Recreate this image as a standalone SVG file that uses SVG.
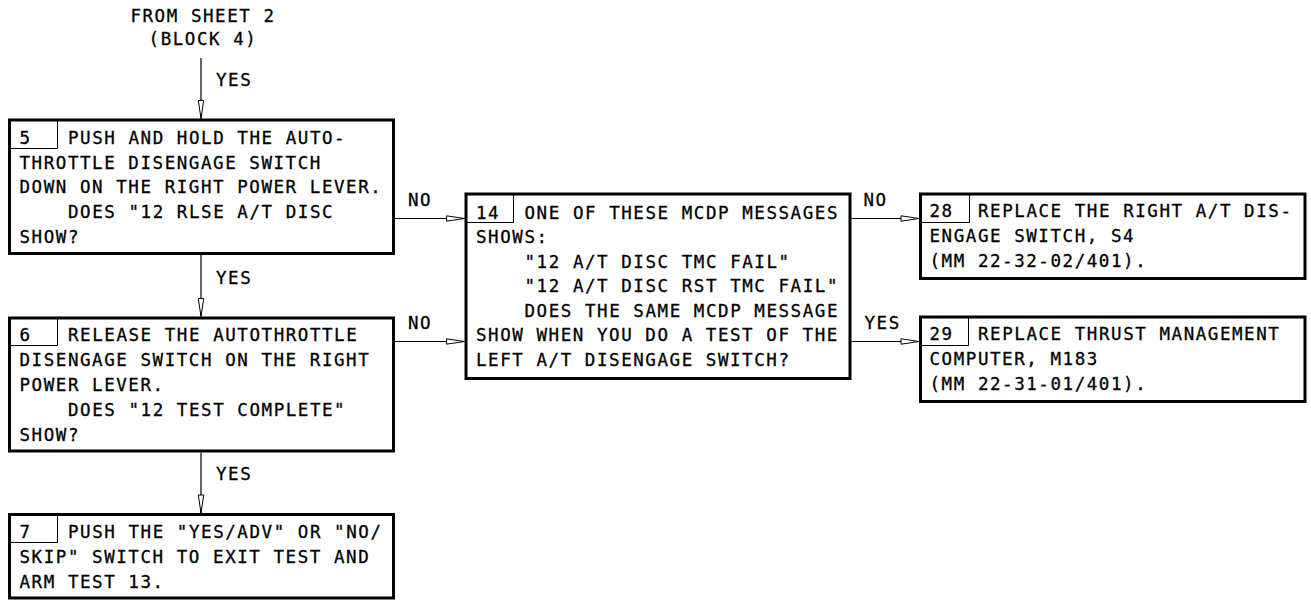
<svg xmlns="http://www.w3.org/2000/svg" width="1311" height="601" viewBox="0 0 1311 601">
<style>
  text { font-family: "DejaVu Sans Mono", "Liberation Mono", monospace; font-size: 17.5px; letter-spacing: 1.56px; fill: #000; stroke: #000; stroke-width: 0.3px; }
  .box { fill: #fff; stroke: #000; stroke-width: 3; }
  .num { fill: none; stroke: #000; stroke-width: 1; }
  .conn { fill: none; stroke: #000; stroke-width: 1.2; marker-end: url(#arr); }
  .mid { text-anchor: middle; }
</style>
<defs>
  <marker id="arr" markerUnits="userSpaceOnUse" markerWidth="20" markerHeight="8" refX="18" refY="3" orient="auto" overflow="visible">
    <path d="M0,0.3 L18,3 L0,5.7 Z" fill="#fff" stroke="#000" stroke-width="1"/>
  </marker>
</defs>
<rect width="1311" height="601" fill="#fff"/>

<g id="start">
  <text x="203" y="22" class="mid">FROM SHEET 2</text>
  <text x="203" y="45" class="mid">(BLOCK 4)</text>
</g>

<g id="connectors">
  <path class="conn" d="M201,58 V118.5"/>
  <path class="conn" d="M201,255 V316.5"/>
  <path class="conn" d="M201,452.5 V513"/>
  <path class="conn" d="M395,218.5 H464.5"/>
  <path class="conn" d="M395,341.5 H464.5"/>
  <path class="conn" d="M851.5,218.5 H919"/>
  <path class="conn" d="M851.5,341.5 H919"/>
  <text x="216" y="86">YES</text>
  <text x="216" y="283.5">YES</text>
  <text x="216" y="480">YES</text>
  <text x="408" y="205.5">NO</text>
  <text x="408" y="328.5">NO</text>
  <text x="863.5" y="205.5">NO</text>
  <text x="864.5" y="328.5">YES</text>
</g>

<g id="n5">
  <rect class="box" x="9.5" y="120" width="384" height="133.5"/>
  <path class="num" d="M9.5,148.5 H57.5 V120"/>
  <text x="19.5" y="143.5">5</text>
  <text x="68" y="143.5">PUSH AND HOLD THE AUTO-</text>
  <text x="19.5" y="168.5">THROTTLE DISENGAGE SWITCH</text>
  <text x="19.5" y="193">DOWN ON THE RIGHT POWER LEVER.</text>
  <text x="68" y="218">DOES "12 RLSE A/T DISC</text>
  <text x="19.5" y="243">SHOW?</text>
</g>

<g id="n6">
  <rect class="box" x="9.5" y="318" width="384" height="133"/>
  <path class="num" d="M9.5,345.5 H57.5 V318"/>
  <text x="19.5" y="341">6</text>
  <text x="68" y="341">RELEASE THE AUTOTHROTTLE</text>
  <text x="19.5" y="366">DISENGAGE SWITCH ON THE RIGHT</text>
  <text x="19.5" y="391">POWER LEVER.</text>
  <text x="68" y="416">DOES "12 TEST COMPLETE"</text>
  <text x="19.5" y="441">SHOW?</text>
</g>

<g id="n7">
  <rect class="box" x="9.5" y="514.5" width="384" height="83.5"/>
  <path class="num" d="M9.5,542.5 H57.5 V514.5"/>
  <text x="19.5" y="538">7</text>
  <text x="68" y="538">PUSH THE "YES/ADV" OR "NO/</text>
  <text x="19.5" y="563">SKIP" SWITCH TO EXIT TEST AND</text>
  <text x="19.5" y="587.5">ARM TEST 13.</text>
</g>

<g id="n14">
  <rect class="box" x="466" y="194" width="384" height="184.5"/>
  <path class="num" d="M466,222.5 H513.5 V194"/>
  <text x="476" y="218.5">14</text>
  <text x="524.5" y="218.5">ONE OF THESE MCDP MESSAGES</text>
  <text x="476" y="243">SHOWS:</text>
  <text x="524.5" y="267.5">"12 A/T DISC TMC FAIL"</text>
  <text x="524.5" y="292">"12 A/T DISC RST TMC FAIL"</text>
  <text x="524.5" y="316.5">DOES THE SAME MCDP MESSAGE</text>
  <text x="476" y="341">SHOW WHEN YOU DO A TEST OF THE</text>
  <text x="476" y="365.5">LEFT A/T DISENGAGE SWITCH?</text>
</g>

<g id="n28">
  <rect class="box" x="920.5" y="194" width="384.5" height="84.5"/>
  <path class="num" d="M920.5,222.5 H969.5 V194"/>
  <text x="929.5" y="217">28</text>
  <text x="978" y="217">REPLACE THE RIGHT A/T DIS-</text>
  <text x="929.5" y="242">ENGAGE SWITCH, S4</text>
  <text x="929.5" y="267">(MM 22-32-02/401).</text>
</g>

<g id="n29">
  <rect class="box" x="920.5" y="317" width="384.5" height="84.5"/>
  <path class="num" d="M920.5,345.5 H968.5 V317"/>
  <text x="929.5" y="340">29</text>
  <text x="978" y="340">REPLACE THRUST MANAGEMENT</text>
  <text x="929.5" y="365">COMPUTER, M183</text>
  <text x="929.5" y="390">(MM 22-31-01/401).</text>
</g>
</svg>
